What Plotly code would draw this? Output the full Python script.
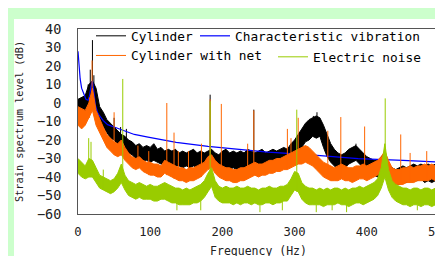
import plotly.graph_objects as go

# ---------------- data ----------------
FREQ = list(range(0, 501, 5))  # Hz sampling grid of the noise envelopes

# Cylinder (black) noise envelope, dB
CYL_HI = [2, 3, 4, 10, 12, 8, -2, -5, -9, -11, -13, -15, -17, -18, -20, -21, -23, -22, -24, -23,
          -24, -22, -25, -24, -26, -25, -26, -25, -27, -26, -27, -26, -25, -27, -26, -27, -26, -25, -27, -28,
          -26, -25, -27, -26, -27, -26, -27, -25, -26, -27, -26, -25, -27, -26, -25, -26, -25, -24, -25, -22,
          -20, -17, -14, -11, -9, -8, -7, -8, -12, -17, -22, -25, -27, -28, -27, -25, -24, -23, -25, -27,
          -29, -30, -31, -31, -29, -27, -33, -35, -36, -35, -34, -35, -34, -33, -34, -33, -34, -33, -34, -33, -34]
CYL_LO = [-6, -7, -5, -2, 0, -3, -10, -13, -16, -19, -20, -22, -24, -25, -27, -28, -30, -29, -31, -31,
          -32, -31, -32, -33, -33, -34, -33, -34, -34, -35, -34, -35, -34, -35, -34, -36, -35, -34, -36, -37,
          -36, -35, -36, -35, -36, -35, -36, -35, -35, -36, -35, -34, -36, -35, -34, -35, -34, -33, -34, -32,
          -30, -27, -24, -21, -20, -18, -19, -18, -24, -29, -32, -34, -36, -37, -35, -33, -32, -31, -33, -35,
          -37, -38, -39, -40, -37, -35, -41, -43, -44, -44, -43, -43, -42, -42, -42, -41, -43, -42, -43, -42, -43]
CYL_SPIKE_F = [14, 17, 20, 22, 24, 50, 59, 67, 105, 183, 243.5, 326, 331, 385]
CYL_SPIKE_DB = [10, 18, 34, 15, 8, -8, -13, -14, -24, 4.5, -3.6, -7, -5, -22]

# Cylinder with net (orange) noise envelope, dB
NET_HI = [-2, -3, -4, 0, 8, -4, -9, -13, -17, -19, -21, -22, -20, -24, -27, -29, -30, -29, -31, -32,
          -32, -33, -33, -34, -31, -32, -33, -34, -35, -35, -36, -35, -35, -34, -33, -32, -29, -28, -31, -33,
          -34, -35, -35, -36, -36, -35, -35, -34, -33, -32, -33, -33, -32, -31, -31, -30, -30, -29, -28, -27,
          -26, -25, -24, -23, -24, -26, -28, -30, -32, -33, -34, -35, -34, -33, -34, -35, -35, -34, -34, -33,
          -34, -33, -32, -31, -29, -26, -31, -35, -36, -36, -35, -35, -34, -35, -34, -34, -33, -34, -33, -34, -33]
NET_LO = [-12, -14, -12, -8, -4, -12, -16, -20, -24, -26, -28, -29, -28, -31, -33, -35, -36, -35, -37, -38,
          -39, -39, -40, -40, -38, -39, -40, -41, -42, -42, -43, -42, -42, -41, -40, -38, -36, -35, -38, -40,
          -41, -42, -42, -43, -43, -42, -42, -41, -40, -39, -40, -39, -39, -38, -38, -37, -37, -36, -36, -35,
          -34, -33, -33, -32, -33, -34, -36, -38, -40, -41, -42, -42, -42, -41, -42, -42, -43, -42, -41, -41,
          -42, -41, -40, -39, -37, -35, -40, -43, -44, -44, -44, -43, -43, -43, -42, -42, -42, -42, -41, -42, -41]
NET_SPIKE_F = [16, 19.5, 50, 83, 98, 123, 133, 139, 153, 171, 183, 198.5, 235, 243.5, 290, 295, 305,
               346, 364, 397, 447, 460, 483, 497]
NET_SPIKE_DB = [3, 23, -5, -23, -26, 0, -16, -26, -26, -22, 2, -0.5, -22, -4, -14, -19, -8,
                -15, -7.6, -12.7, -17, -27, -26, -23]

# Electric noise (yellow-green) noise envelope, dB
NOISE_HI = [-30, -32, -34, -30, -31, -35, -39, -40, -41, -42, -41, -38, -33, -39, -42, -43, -44, -43, -44, -45,
            -44, -45, -45, -44, -43, -44, -45, -46, -46, -47, -46, -47, -46, -45, -44, -42, -38, -35, -42, -45,
            -46, -45, -46, -46, -45, -46, -46, -45, -46, -46, -47, -46, -46, -45, -46, -46, -45, -45, -44, -41,
            -37, -38, -43, -45, -46, -46, -47, -46, -47, -46, -47, -46, -46, -47, -46, -47, -46, -46, -45, -46,
            -45, -44, -43, -41, -35, -22, -36, -42, -44, -45, -46, -46, -47, -46, -46, -47, -46, -46, -47, -46, -46]
NOISE_LO = [-38, -40, -41, -40, -40, -43, -46, -47, -48, -49, -48, -46, -43, -47, -50, -51, -52, -51, -52, -52,
            -52, -53, -53, -52, -52, -53, -54, -54, -55, -55, -55, -55, -54, -54, -53, -51, -48, -45, -51, -53,
            -54, -54, -54, -55, -54, -55, -54, -54, -55, -54, -55, -55, -54, -54, -55, -54, -54, -53, -53, -50,
            -47, -48, -52, -54, -55, -55, -55, -55, -56, -55, -55, -55, -54, -55, -55, -56, -55, -54, -54, -55,
            -54, -53, -52, -50, -46, -40, -47, -51, -53, -54, -55, -55, -56, -55, -55, -56, -55, -55, -56, -55, -55]
NOISE_SPIKE_F = [14.8, 18, 35, 62, 137, 170, 183, 252, 283, 303, 330, 352, 372, 425.5, 470]
NOISE_SPIKE_DB = [-19, -21, -36, 13, -58, -58, 1, -59, -58, -3.6, -59, -58, -59, 2.5, -58]

# Characteristic vibration (blue)
VIB_F = [0, 1, 2, 3, 5, 8, 11, 14, 16, 18, 19, 20, 21, 22, 24, 27, 30, 35, 41, 50, 60, 78, 97,
         120, 136, 180, 220, 263, 318, 350, 388, 450, 500]
VIB_DB = [28, 22, 17, 13, 8, 4.5, 2, 1.5, 4, 9, 11, 12, 9, 4, -1, -5, -7, -9.5, -11.7, -13, -14.4, -17, -18.4,
          -20.2, -21.3, -23.4, -25, -26.5, -27.9, -29, -30.1, -31, -31.9]

X_TICKS = [0, 100, 200, 300, 400, 500]
Y_TICKS = [40, 30, 20, 10, 0, -10, -20, -30, -40, -50, -60]

COL_CYL = "#000000"
COL_NET = "#FF6600"
COL_NOISE = "#99CC00"
COL_VIB = "#0000FF"
FONT = "DejaVu Sans Mono"


def spike_xy(freqs, peaks, lo):
    xs, ys = [], []
    for f, p in zip(freqs, peaks):
        base = lo[int(round(f / 5.0))]
        xs += [f, f, None]
        ys += [base, p, None]
    return xs, ys


fig = go.Figure()


def add_series(name, hi, lo, sf, sdb, color, legend):
    fig.add_trace(go.Scatter(x=FREQ, y=lo, mode="lines", line=dict(color=color, width=1),
                             showlegend=False, hoverinfo="skip"))
    fig.add_trace(go.Scatter(x=FREQ, y=hi, mode="lines", line=dict(color=color, width=1),
                             fill="tonexty", fillcolor=color, showlegend=False, hoverinfo="skip"))
    sx, sy = spike_xy(sf, sdb, lo)
    fig.add_trace(go.Scatter(x=sx, y=sy, mode="lines", line=dict(color=color, width=1),
                             name=name, legend=legend))


add_series("Cylinder", CYL_HI, CYL_LO, CYL_SPIKE_F, CYL_SPIKE_DB, COL_CYL, "legend")
fig.add_trace(go.Scatter(x=VIB_F, y=VIB_DB, mode="lines", line=dict(color=COL_VIB, width=1.2),
                         name="Characteristic vibration", legend="legend2"))
add_series("Cylinder with net", NET_HI, NET_LO, NET_SPIKE_F, NET_SPIKE_DB, COL_NET, "legend")
add_series("Electric noise", NOISE_HI, NOISE_LO, NOISE_SPIKE_F, NOISE_SPIKE_DB, COL_NOISE, "legend3")

W, H = 443, 256
ML, MR, MT, MB = 70, 12, 21, 50
PW, PH = W - ML - MR, H - MT - MB


def px_x(p):
    return (p - ML) / PW


def px_y(p):
    return (H - MB - p) / PH


legend_common = dict(bgcolor="rgba(0,0,0,0)", borderwidth=0, orientation="v", traceorder="normal",
                     font=dict(family=FONT, size=12.8, color="#000000"),
                     yanchor="top", xanchor="left")
ROW1_TOP = 13   # pixel y of legend box top, first row
ROW2_TOP = 34   # pixel y of legend box top, second row

fig.update_layout(
    width=W, height=H,
    margin=dict(l=ML, r=MR, t=MT, b=MB, pad=0),
    paper_bgcolor="#CCFFCC",
    plot_bgcolor="#FFFFFF",
    font=dict(family=FONT, color="#222222"),
    legend=dict(x=px_x(83), y=px_y(ROW1_TOP), **legend_common),
    legend2=dict(x=px_x(187), y=px_y(ROW1_TOP), **legend_common),
    legend3=dict(x=px_x(265), y=px_y(ROW2_TOP), **legend_common),
    shapes=[dict(type="rect", xref="paper", yref="paper", layer="below",
                 x0=px_x(6), x1=px_x(W + 2), y0=px_y(H + 2), y1=px_y(11),
                 fillcolor="#FFFFFF", line=dict(width=0))],
    xaxis=dict(range=[0, 500], tickvals=X_TICKS, ticks="outside", ticklen=6,
               tickcolor="rgba(0,0,0,0)", showgrid=False, zeroline=False,
               showline=True, linecolor="#555555", linewidth=1, mirror=True,
               tickfont=dict(family=FONT, size=12.2), automargin=False,
               title=dict(text="Frequency (Hz)", font=dict(family=FONT, size=11.5), standoff=9)),
    yaxis=dict(range=[-60, 40], tickvals=Y_TICKS, ticks="outside", ticklen=13,
               tickcolor="rgba(0,0,0,0)", showgrid=False, zeroline=False,
               showline=True, linecolor="#555555", linewidth=1, mirror=True,
               tickfont=dict(family=FONT, size=13.5), automargin=False,
               title=dict(text="Strain spectrum level (dB)", font=dict(family=FONT, size=10.3), standoff=11)),
)

fig.write_html("out.html")
